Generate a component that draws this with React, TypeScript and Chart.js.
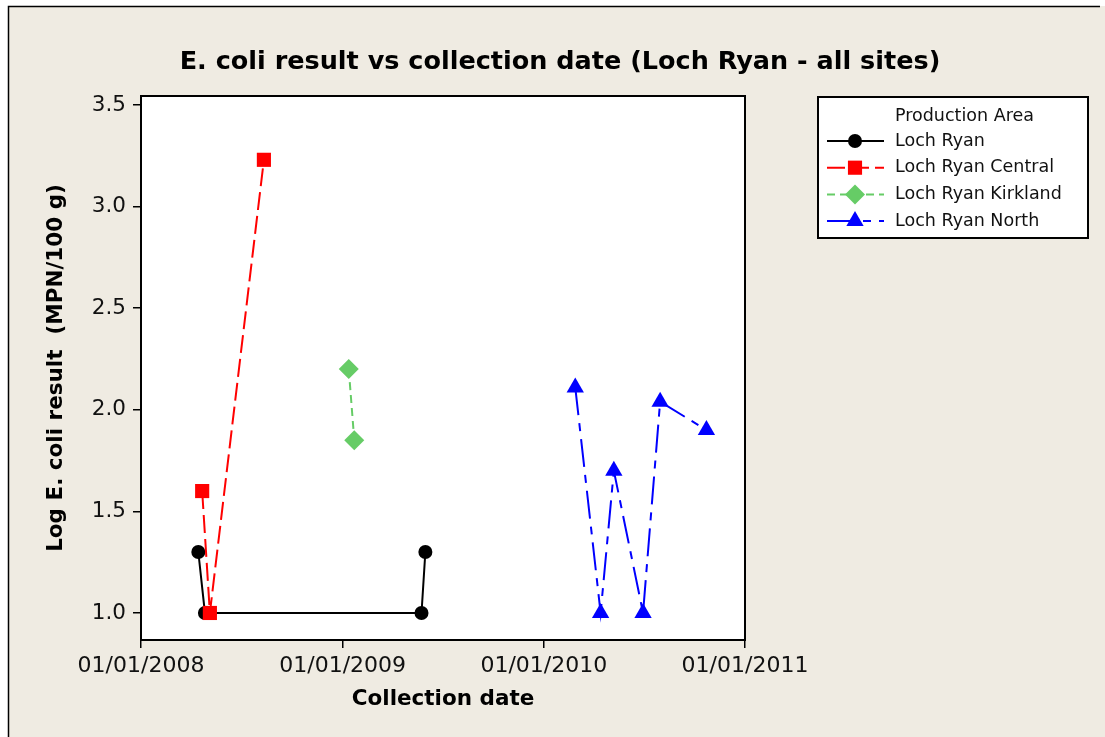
import React, { useEffect, useRef } from "react";
import { Chart, registerables } from "chart.js";
import { drawPoint } from "chart.js/helpers";

Chart.register(...registerables);

// ---- data ----
const ORIGIN_DATE = "2008-01-01";
const xTickDates = ["2008-01-01", "2009-01-01", "2010-01-01", "2011-01-01"];
const xTickLabels = ["01/01/2008", "01/01/2009", "01/01/2010", "01/01/2011"];
const yTicks = [1.0, 1.5, 2.0, 2.5, 3.0, 3.5];
const yMin = 0.867;
const yMax = 3.544;

const lochRyanDates = ["2008-04-14", "2008-04-26", "2009-05-24", "2009-05-31"];
const lochRyanValues = [1.3, 1.0, 1.0, 1.3];

const centralDates = ["2008-04-21", "2008-05-05", "2008-08-11"];
const centralValues = [1.6, 1.0, 3.23];

const kirklandDates = ["2009-01-12", "2009-01-22"];
const kirklandValues = [2.2, 1.85];

const northDates = ["2010-02-27", "2010-04-14", "2010-05-08", "2010-06-30", "2010-07-31", "2010-10-23"];
const northValues = [2.11, 1.0, 1.7, 1.0, 2.04, 1.9];

const seriesLabels = ["Loch Ryan", "Loch Ryan Central", "Loch Ryan Kirkland", "Loch Ryan North"];
const legendTitle = "Production Area";
const chartTitle = "E. coli result vs collection date (Loch Ryan - all sites)";
const xTitle = "Collection date";
const yTitle = "Log E. coli result  (MPN/100 g)";

// ---- helpers ----
const dayOf = (s: string) =>
  Math.round((Date.parse(s + "T00:00:00Z") - Date.parse(ORIGIN_DATE + "T00:00:00Z")) / 86400000);
const toPoints = (dates: string[], values: number[]) => dates.map((d, i) => ({ x: dayOf(d), y: values[i] }));

const BEIGE = "#EFEBE2";
const FONT = '"DejaVu Sans", sans-serif';

const styles = [
  { color: "#000000", pointStyle: "circle", radius: 7, dash: [] as number[] },
  { color: "#FF0000", pointStyle: "rect", radius: 10, dash: [18, 6] },
  { color: "#66CC66", pointStyle: "rectRot", radius: 10, dash: [8, 5] },
  { color: "#0000FF", pointStyle: "triangle", radius: 10, dash: [28, 8, 8, 8] },
];

const framePlugin = {
  id: "framePlugin",
  beforeDraw(chart: any) {
    const { ctx, chartArea: a, width, height } = chart;
    ctx.save();
    ctx.fillStyle = "#ffffff";
    ctx.fillRect(0, 0, width, height);
    ctx.fillStyle = BEIGE;
    ctx.fillRect(8, 6, width - 8, height - 6);
    ctx.strokeStyle = "#000";
    ctx.lineWidth = 1.5;
    ctx.beginPath();
    ctx.moveTo(8.5, height);
    ctx.lineTo(8.5, 6.5);
    ctx.lineTo(1100, 6.5);
    ctx.stroke();
    ctx.fillStyle = "#ffffff";
    ctx.fillRect(a.left, a.top, a.right - a.left, a.bottom - a.top);
    ctx.restore();
  },
  afterDraw(chart: any) {
    const { ctx, chartArea: a } = chart;
    ctx.save();
    // plot border
    ctx.strokeStyle = "#000";
    ctx.lineWidth = 2;
    ctx.setLineDash([]);
    ctx.strokeRect(a.left, a.top, a.right - a.left, a.bottom - a.top);

    // title
    ctx.fillStyle = "#000";
    ctx.font = `bold 25.5px ${FONT}`;
    ctx.textAlign = "center";
    ctx.textBaseline = "middle";
    ctx.fillText(chartTitle, 560, 62);

    // axis titles
    ctx.font = `bold 21.5px ${FONT}`;
    ctx.fillText(xTitle, (a.left + a.right) / 2, 699);
    ctx.save();
    ctx.translate(56, (a.top + a.bottom) / 2);
    ctx.rotate(-Math.PI / 2);
    ctx.fillText(yTitle, 0, 0);
    ctx.restore();

    // legend
    const bx = 818, by = 97, bw = 270, bh = 141;
    ctx.fillStyle = "#ffffff";
    ctx.fillRect(bx, by, bw, bh);
    ctx.strokeStyle = "#000";
    ctx.lineWidth = 2;
    ctx.strokeRect(bx, by, bw, bh);
    ctx.fillStyle = "#111";
    ctx.font = `17.5px ${FONT}`;
    ctx.textAlign = "left";
    ctx.textBaseline = "middle";
    ctx.fillText(legendTitle, 895, 116);
    chart.data.datasets.forEach((ds: any, i: number) => {
      const y = 141 + i * 26.7;
      const st = styles[i];
      ctx.strokeStyle = ds.borderColor;
      ctx.lineWidth = 2;
      ctx.setLineDash(ds.borderDash || []);
      ctx.beginPath();
      ctx.moveTo(827, y);
      ctx.lineTo(884, y);
      ctx.stroke();
      ctx.setLineDash([]);
      ctx.fillStyle = ds.borderColor;
      drawPoint(ctx, { pointStyle: st.pointStyle, radius: st.radius, rotation: 0, borderWidth: 0 } as any, 855, y);
      ctx.fillStyle = "#111";
      ctx.fillText(ds.label, 895, y);
    });
    ctx.restore();
  },
};

export default function App() {
  const ref = useRef<HTMLCanvasElement | null>(null);

  useEffect(() => {
    if (!ref.current) return;
    const seriesData = [
      toPoints(lochRyanDates, lochRyanValues),
      toPoints(centralDates, centralValues),
      toPoints(kirklandDates, kirklandValues),
      toPoints(northDates, northValues),
    ];
    const xTickValues = xTickDates.map(dayOf);

    const chart = new Chart(ref.current, {
      type: "line",
      data: {
        datasets: seriesData.map((d, i) => ({
          label: seriesLabels[i],
          data: d,
          order: seriesData.length - i,
          borderColor: styles[i].color,
          backgroundColor: styles[i].color,
          borderWidth: 2,
          borderDash: styles[i].dash,
          pointStyle: styles[i].pointStyle as any,
          pointRadius: styles[i].radius,
          pointBackgroundColor: styles[i].color,
          pointBorderColor: styles[i].color,
          pointBorderWidth: 0,
          tension: 0,
          fill: false,
        })),
      },
      options: {
        responsive: false,
        animation: false,
        events: [],
        layout: { padding: { left: 0, top: 96, right: 360, bottom: 0 } },
        plugins: { legend: { display: false }, tooltip: { enabled: false }, title: { display: false } },
        scales: {
          x: {
            type: "linear",
            min: xTickValues[0],
            max: xTickValues[xTickValues.length - 1],
            afterBuildTicks: (s: any) => {
              s.ticks = xTickValues.map((v) => ({ value: v }));
            },
            afterFit: (s: any) => {
              s.height = 97;
            },
            ticks: {
              autoSkip: false,
              maxRotation: 0,
              padding: 5,
              color: "#111",
              font: { family: FONT, size: 22 },
              callback: (_v: any, i: number) => xTickLabels[i],
            },
            grid: { drawOnChartArea: false, drawTicks: true, tickLength: 8, color: "#000", lineWidth: 1.5 },
            border: { display: false },
          },
          y: {
            type: "linear",
            min: yMin,
            max: yMax,
            afterBuildTicks: (s: any) => {
              s.ticks = yTicks.map((v) => ({ value: v }));
            },
            afterFit: (s: any) => {
              s.width = 141;
            },
            ticks: {
              padding: 7,
              color: "#111",
              font: { family: FONT, size: 21.5 },
              callback: (v: any) => Number(v).toFixed(1),
            },
            grid: { drawOnChartArea: false, drawTicks: true, tickLength: 8, color: "#000", lineWidth: 1.5 },
            border: { display: false },
          },
        },
      },
      plugins: [framePlugin],
    });
    return () => chart.destroy();
  }, []);

  return (
    <div style={{ position: "absolute", left: 0, top: 0, width: 1105, height: 737 }}>
      <canvas ref={ref} width={1105} height={737} style={{ display: "block", width: 1105, height: 737 }} />
    </div>
  );
}
